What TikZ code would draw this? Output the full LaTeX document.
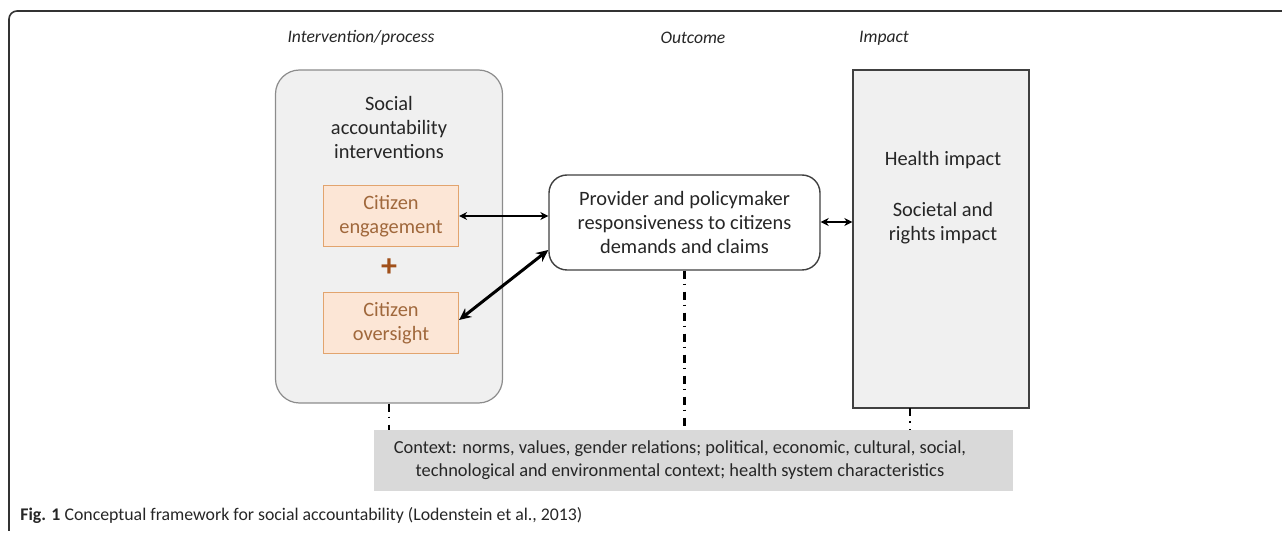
\documentclass[tikz,border=0pt]{standalone}
\usepackage{fontspec}
\setmainfont{Carlito}
\usepackage{xcolor}
\usepackage{tikz}
\usetikzlibrary{positioning,calc,arrows.meta}

\definecolor{boxgray}{HTML}{F0F0F0}
\definecolor{edgegray}{HTML}{8C8C8C}
\definecolor{ctxgray}{HTML}{D9D9D9}
\definecolor{orfill}{HTML}{FCE6D6}
\definecolor{oredge}{HTML}{E2A46E}
\definecolor{ortext}{HTML}{A0683C}
\definecolor{plusbrown}{HTML}{A0501A}
\definecolor{txt}{HTML}{262626}

\tikzset{
  bodytext/.style={font=\fontsize{10.2}{12}\selectfont, text=txt, align=center},
  citbox/.style={draw=oredge, fill=orfill, line width=0.6pt, minimum width=67.5pt,
    minimum height=30.5pt, inner sep=0pt, align=center,
    font=\fontsize{10.2}{12.2}\selectfont, text=ortext},
  headtext/.style={font=\fontsize{8.8}{11}\selectfont\itshape, text=txt},
  thinarrow/.style={{Stealth[length=4pt,width=4pt]}-{Stealth[length=4pt,width=4pt]}, line width=0.6pt},
  thickarrow/.style={{Stealth[length=6pt,width=5.5pt]}-{Stealth[length=6pt,width=5.5pt]}, line width=1.5pt},
  dashdot/.style={line width=1.2pt, dash pattern=on 4pt off 2.5pt on 0.7pt off 3.3pt}
}

\begin{document}
\begin{tikzpicture}[x=0.5pt,y=-0.5pt]
  \useasboundingbox (0,0) rectangle (1282,534);
  % frame
  \draw[line width=0.8pt, color=black!80, rounded corners=4pt] (9,531) -- (9,11) -- (1282,11);

  % column heads
  \node[headtext] (headint) at (361,38) {Intervention/process};
  \node[headtext] (headout) at (693,38) {Outcome};
  \node[headtext] (headimp) at (884,38) {Impact};

  % left: interventions
  \node[draw=edgegray, fill=boxgray, line width=0.6pt, rounded corners=12pt,
    minimum width=113.5pt, minimum height=166.5pt] (interv) at (389,236.5) {};
  \node[bodytext] (intlbl) at (389,127) {Social\\accountability\\interventions};
  \node[citbox] (engage) at (391,216) {Citizen\\engagement};
  \node[text=plusbrown, font=\fontsize{16}{16}\selectfont\bfseries] (plus) at (389,268) {+};
  \node[citbox] (oversight) at (391,323) {Citizen\\oversight};

  % middle: outcome
  \node[draw=black!75, fill=white, line width=0.7pt, rounded corners=9pt,
    minimum width=135.5pt, minimum height=47.5pt, bodytext] (resp) at (684.5,222.5)
    {Provider and policymaker\\responsiveness to citizens\\demands and claims};

  % right: impact
  \node[draw=black!75, fill=boxgray, line width=0.7pt,
    minimum width=88pt, minimum height=169pt] (impact) at (941,239) {};
  \node[bodytext] (implbl) at (943,160) {Health impact};
  \node[bodytext] (implbl2) at (943,223.5) {Societal and\\rights impact};
  \coordinate (impfoot) at (910,408.5);

  % context
  \node[fill=ctxgray, minimum width=319.5pt, minimum height=30.5pt, inner sep=0pt] (context) at (693.5,460.5) {};
  \node[bodytext, font=\fontsize{9.2}{11.5}\selectfont] (ctxlbl) at (680,460.5)
    {Context: norms, values, gender relations; political, economic, cultural, social,\\
     technological and environmental context; health system characteristics};

  % connectors
  \draw[thinarrow] (engage.east |- 0,216) -- (resp.west |- 0,216);
  \draw[thickarrow] (oversight.east |- 0,320) -- (resp.west |- 0,250);
  \draw[thinarrow] (resp.east |- 0,222) -- (impact.west |- 0,222);
  \draw[dashdot] (interv.south) -- (context.north -| interv.south);
  \draw[dashdot] (resp.south) -- (context.north -| resp.south);
  \draw[dashdot] (impfoot) -- (context.north -| impfoot);

  % caption
  \node[anchor=west, inner sep=0pt, text=txt, font=\fontsize{8.9}{11}\selectfont] (caption) at (20,515)
    {\textbf{Fig. 1} Conceptual framework for social accountability (Lodenstein et al., 2013)};
\end{tikzpicture}
\end{document}
